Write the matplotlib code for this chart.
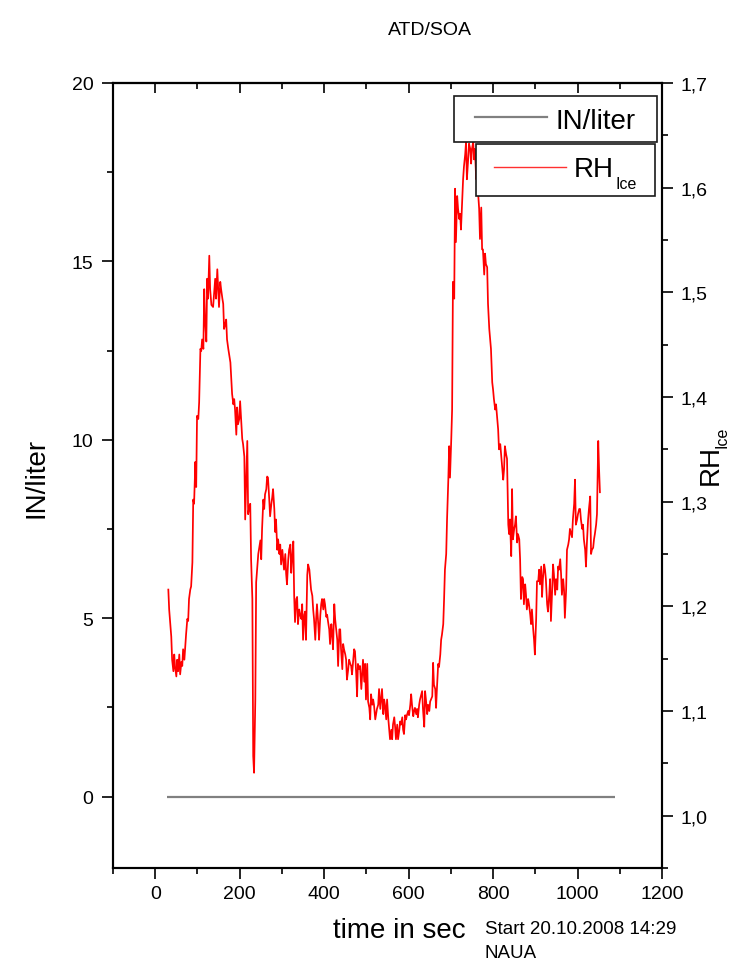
import matplotlib
matplotlib.use("Agg")
import matplotlib.pyplot as plt
from matplotlib.patches import Rectangle
from matplotlib.lines import Line2D
from matplotlib.ticker import MultipleLocator, FixedLocator, FixedFormatter

plt.rcParams['font.family'] = ['Liberation Sans', 'DejaVu Sans']

# ---------------- data ----------------
title = "ATD/SOA"

# ice nuclei concentration (IN/liter)
in_time = [28, 1088]
in_conc = [0.0, 0.0]

# relative humidity with respect to ice
rh_time = [
    31, 33, 38, 40, 43, 45, 47, 50, 52, 54, 57, 59, 62, 64, 66, 69, 71, 73, 76, 78,
    80, 83, 85, 88, 90, 92, 95, 97, 99, 102, 104, 107, 109, 111, 114, 116, 118, 121, 123, 125,
    128, 130, 133, 135, 137, 140, 142, 144, 147, 149, 151, 154, 156, 159, 161, 163, 166, 168, 170, 173,
    175, 178, 180, 182, 185, 187, 189, 192, 194, 196, 199, 201, 204, 206, 208, 211, 213, 215, 218, 220,
    222, 225, 227, 230, 232, 234, 237, 239, 244, 249, 251, 253, 256, 258, 260, 263, 265, 267, 270, 272,
    275, 277, 279, 282, 284, 286, 289, 291, 294, 296, 298, 301, 303, 305, 308, 310, 312, 315, 317, 320,
    322, 324, 327, 329, 331, 334, 336, 338, 341, 343, 346, 348, 350, 353, 355, 357, 360, 362, 365, 367,
    369, 372, 374, 376, 379, 381, 383, 386, 388, 391, 393, 395, 398, 400, 402, 405, 407, 409, 412, 414,
    417, 419, 421, 424, 426, 428, 431, 433, 436, 438, 440, 443, 445, 447, 450, 452, 454, 457, 459, 462,
    464, 466, 469, 471, 473, 476, 478, 480, 483, 485, 488, 490, 492, 495, 497, 499, 502, 504, 507, 509,
    511, 514, 516, 518, 521, 523, 525, 528, 530, 533, 535, 537, 540, 542, 544, 547, 549, 552, 554, 556,
    559, 561, 563, 566, 568, 570, 573, 575, 578, 580, 582, 585, 587, 589, 592, 594, 596, 599, 601, 604,
    606, 608, 611, 613, 615, 618, 620, 622, 625, 627, 630, 632, 634, 637, 639, 641, 644, 646, 649, 651,
    653, 656, 658, 660, 663, 665, 667, 670, 672, 675, 677, 679, 682, 684, 686, 689, 691, 694, 696, 698,
    701, 703, 705, 708, 710, 712, 715, 717, 720, 722, 724, 727, 729, 731, 734, 736, 738, 741, 743, 746,
    748, 750, 753, 755, 757, 760, 762, 765, 767, 769, 772, 774, 776, 779, 781, 783, 786, 788, 791, 793,
    795, 798, 800, 802, 805, 807, 810, 812, 814, 817, 819, 821, 824, 826, 828, 831, 833, 836, 838, 840,
    843, 845, 847, 850, 852, 854, 857, 859, 862, 864, 866, 869, 871, 873, 876, 878, 880, 883, 885, 888,
    890, 892, 895, 897, 899, 902, 904, 907, 909, 911, 914, 916, 918, 921, 923, 925, 928, 930, 933, 935,
    937, 940, 942, 944, 947, 949, 952, 954, 956, 959, 961, 963, 966, 968, 970, 973, 975, 978, 980, 982,
    985, 987, 989, 992, 994, 996, 999, 1001, 1004, 1006, 1008, 1011, 1013, 1015, 1018, 1020, 1022, 1025, 1027, 1030,
    1032, 1034, 1037, 1039, 1041, 1044, 1046, 1049, 1051, 1053,
]
rh_ice = [
    1.216, 1.197, 1.171, 1.149, 1.138, 1.154, 1.142, 1.133, 1.149, 1.138, 1.154, 1.135, 1.147, 1.143, 1.159, 1.149, 1.161, 1.173, 1.188, 1.186,
    1.207, 1.216, 1.219, 1.242, 1.302, 1.298, 1.338, 1.314, 1.382, 1.379, 1.395, 1.446, 1.444, 1.455, 1.446, 1.503, 1.474, 1.453, 1.513, 1.494,
    1.535, 1.503, 1.488, 1.487, 1.486, 1.503, 1.513, 1.494, 1.522, 1.503, 1.486, 1.510, 1.503, 1.494, 1.489, 1.465, 1.470, 1.474, 1.455, 1.446,
    1.441, 1.433, 1.417, 1.403, 1.393, 1.398, 1.388, 1.364, 1.390, 1.374, 1.379, 1.396, 1.374, 1.360, 1.355, 1.343, 1.283, 1.312, 1.358, 1.288,
    1.293, 1.298, 1.245, 1.207, 1.057, 1.041, 1.111, 1.223, 1.250, 1.263, 1.245, 1.274, 1.302, 1.293, 1.307, 1.312, 1.324, 1.323, 1.302, 1.286,
    1.298, 1.304, 1.312, 1.293, 1.271, 1.283, 1.254, 1.264, 1.250, 1.259, 1.240, 1.254, 1.245, 1.235, 1.250, 1.231, 1.221, 1.245, 1.254, 1.259,
    1.232, 1.245, 1.262, 1.210, 1.185, 1.207, 1.209, 1.183, 1.197, 1.192, 1.188, 1.202, 1.168, 1.192, 1.195, 1.168, 1.230, 1.240, 1.235, 1.226,
    1.216, 1.210, 1.197, 1.188, 1.168, 1.188, 1.202, 1.183, 1.168, 1.192, 1.202, 1.207, 1.197, 1.207, 1.202, 1.190, 1.192, 1.186, 1.178, 1.164,
    1.183, 1.173, 1.159, 1.202, 1.188, 1.180, 1.168, 1.143, 1.178, 1.178, 1.159, 1.140, 1.164, 1.159, 1.154, 1.149, 1.130, 1.140, 1.149, 1.145,
    1.143, 1.135, 1.149, 1.159, 1.157, 1.135, 1.114, 1.145, 1.140, 1.143, 1.121, 1.135, 1.149, 1.128, 1.145, 1.111, 1.145, 1.109, 1.103, 1.092,
    1.116, 1.106, 1.111, 1.106, 1.092, 1.097, 1.102, 1.106, 1.121, 1.102, 1.111, 1.121, 1.097, 1.111, 1.106, 1.092, 1.111, 1.092, 1.082, 1.073,
    1.082, 1.073, 1.087, 1.094, 1.085, 1.073, 1.087, 1.073, 1.082, 1.090, 1.087, 1.094, 1.082, 1.078, 1.096, 1.092, 1.096, 1.100, 1.096, 1.106,
    1.116, 1.106, 1.095, 1.100, 1.103, 1.097, 1.102, 1.094, 1.106, 1.111, 1.116, 1.119, 1.102, 1.085, 1.119, 1.111, 1.097, 1.106, 1.100, 1.109,
    1.111, 1.114, 1.146, 1.125, 1.121, 1.103, 1.121, 1.145, 1.142, 1.154, 1.168, 1.173, 1.183, 1.207, 1.235, 1.250, 1.283, 1.321, 1.353, 1.323,
    1.360, 1.388, 1.510, 1.494, 1.599, 1.548, 1.592, 1.580, 1.570, 1.575, 1.560, 1.589, 1.608, 1.620, 1.632, 1.644, 1.608, 1.627, 1.642, 1.637,
    1.623, 1.637, 1.644, 1.627, 1.637, 1.608, 1.618, 1.592, 1.580, 1.551, 1.581, 1.541, 1.541, 1.517, 1.537, 1.527, 1.524, 1.489, 1.465, 1.455,
    1.446, 1.414, 1.407, 1.398, 1.388, 1.393, 1.379, 1.369, 1.350, 1.355, 1.345, 1.336, 1.321, 1.331, 1.353, 1.345, 1.341, 1.278, 1.269, 1.283,
    1.248, 1.312, 1.264, 1.274, 1.278, 1.286, 1.261, 1.269, 1.264, 1.245, 1.207, 1.228, 1.226, 1.202, 1.221, 1.211, 1.197, 1.207, 1.202, 1.192,
    1.183, 1.197, 1.178, 1.168, 1.154, 1.188, 1.224, 1.224, 1.235, 1.221, 1.238, 1.209, 1.226, 1.240, 1.235, 1.226, 1.202, 1.195, 1.211, 1.226,
    1.186, 1.216, 1.240, 1.231, 1.211, 1.226, 1.216, 1.238, 1.235, 1.245, 1.231, 1.211, 1.226, 1.216, 1.189, 1.216, 1.254, 1.259, 1.264, 1.274,
    1.269, 1.266, 1.283, 1.298, 1.321, 1.278, 1.283, 1.288, 1.293, 1.293, 1.283, 1.274, 1.278, 1.264, 1.254, 1.238, 1.259, 1.283, 1.293, 1.305,
    1.250, 1.254, 1.256, 1.264, 1.269, 1.278, 1.288, 1.358, 1.331, 1.309,
]

x_major = [0, 200, 400, 600, 800, 1000, 1200]
left_major = [0, 5, 10, 15, 20]
right_major = [1.0, 1.1, 1.2, 1.3, 1.4, 1.5, 1.6, 1.7]
right_labels = ["1,0", "1,1", "1,2", "1,3", "1,4", "1,5", "1,6", "1,7"]

# ---------------- figure ----------------
W, H = 737, 970
fig = plt.figure(figsize=(W / 100, H / 100), dpi=100)
fig.patch.set_facecolor("white")


def fx(px):
    return px / W


def fy(py):
    return 1 - py / H


ax = fig.add_axes([fx(113), fy(869), (662 - 113) / W, (869 - 84) / H])
ax2 = ax.twinx()

ax.plot(in_time, in_conc, color="#808080", lw=1.6, solid_capstyle="butt")
ax2.plot(rh_time, rh_ice, color="red", lw=1.25)

ax.set_xlim(-100, 1200)
ax.set_ylim(-2, 20)
ax2.set_ylim(0.95, 1.7)

tick_font = 14
ax.xaxis.set_major_locator(FixedLocator(x_major))
ax.xaxis.set_minor_locator(MultipleLocator(100))
ax.yaxis.set_major_locator(FixedLocator(left_major))
ax.yaxis.set_minor_locator(MultipleLocator(2.5))
ax2.yaxis.set_major_locator(FixedLocator(right_major))
ax2.yaxis.set_major_formatter(FixedFormatter(right_labels))
ax2.yaxis.set_minor_locator(MultipleLocator(0.05))

ax.tick_params(axis="x", which="both", direction="out", bottom=True, top=False,
               labelsize=tick_font, width=1.2, pad=4.5)
ax.tick_params(axis="y", which="both", direction="out", left=True, right=False,
               labelsize=tick_font, width=1.2, pad=6)
ax2.tick_params(axis="y", which="both", direction="out", right=True, left=False,
                labelsize=tick_font, width=1.2, pad=5)
for a in (ax, ax2):
    a.tick_params(which="major", length=8)
    a.tick_params(which="minor", length=4.3)
    for s in a.spines.values():
        s.set_linewidth(1.5)

# inward ticks along the top frame
top = ax.secondary_xaxis("top")
top.xaxis.set_major_locator(FixedLocator(x_major))
top.xaxis.set_minor_locator(MultipleLocator(100))
top.tick_params(which="both", direction="in", labeltop=False, width=1.2)
top.tick_params(which="major", length=7)
top.tick_params(which="minor", length=4)
top.spines["top"].set_linewidth(1.5)

# ---------------- legend boxes ----------------
def axc_x(px):
    return (px - 113) / 549


def axc_y(py):
    return (869 - py) / 785


tr = ax2.transAxes
box1 = Rectangle((axc_x(454), axc_y(143)), axc_x(657) - axc_x(454), axc_y(97) - axc_y(143),
                 transform=tr, facecolor="white", edgecolor="#1a1a1a", lw=1.2, zorder=10,
                 clip_on=False)
box2 = Rectangle((axc_x(476), axc_y(197)), axc_x(655) - axc_x(476), axc_y(145) - axc_y(197),
                 transform=tr, facecolor="white", edgecolor="#1a1a1a", lw=1.2, zorder=10,
                 clip_on=False)
ax2.add_patch(box1)
ax2.add_patch(box2)
ax2.add_line(Line2D([axc_x(475), axc_x(547)], [axc_y(118), axc_y(118)], transform=tr,
                    color="#808080", lw=1.6, zorder=11))
ax2.text(axc_x(555), axc_y(129), "IN/liter", transform=tr, fontsize=20,
         ha="left", va="baseline", zorder=12)
ax2.add_line(Line2D([axc_x(494), axc_x(566)], [axc_y(168), axc_y(168)], transform=tr,
                    color="#ff3030", lw=1.0, zorder=11))
ax2.text(axc_x(574), axc_y(177), "RH", transform=tr, fontsize=20,
         ha="left", va="baseline", zorder=12)
ax2.text(axc_x(616), axc_y(189), "Ice", transform=tr, fontsize=11.5,
         ha="left", va="baseline", zorder=12)

# ---------------- labels ----------------
fig.text(fx(430), fy(35), title, fontsize=14, ha="center", va="baseline")
fig.text(fx(43), fy(478), "IN/liter", fontsize=20, rotation=90, rotation_mode="anchor",
         ha="center", va="baseline")
fig.text(fx(718), fy(485), "RH", fontsize=20, rotation=90, rotation_mode="anchor",
         ha="left", va="baseline")
fig.text(fx(726), fy(448), "Ice", fontsize=11.5, rotation=90, rotation_mode="anchor",
         ha="left", va="baseline")
fig.text(fx(333), fy(938), "time in sec", fontsize=20, ha="left", va="baseline")
fig.text(fx(485), fy(934), "Start 20.10.2008 14:29", fontsize=13.5, ha="left", va="baseline")
fig.text(fx(485), fy(958), "NAUA", fontsize=13.5, ha="left", va="baseline")

fig.savefig("out.png", dpi=100, facecolor="white")
